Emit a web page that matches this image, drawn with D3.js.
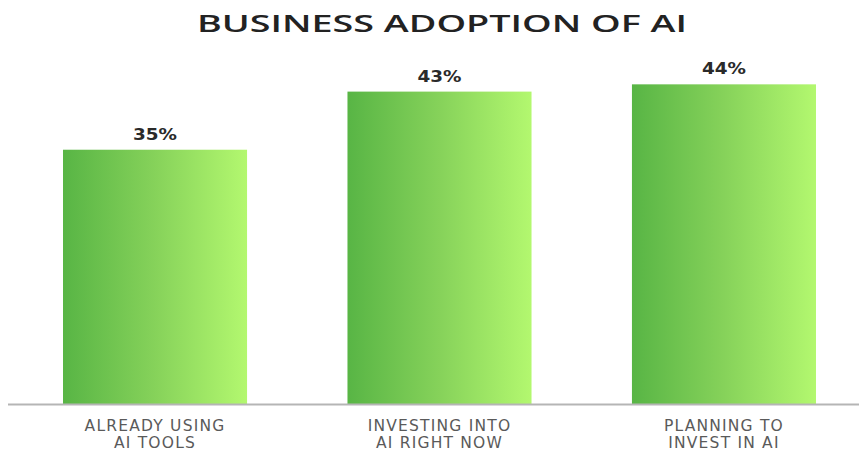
<!DOCTYPE html>
<html><head><meta charset="utf-8">
<script src="https://cdn.jsdelivr.net/npm/d3@7"></script>
<style>html,body{margin:0;padding:0;background:#fff;}svg{display:block;}</style>
</head><body><svg id="c" width="859" height="452"></svg>
<script>
const title = "BUSINESS ADOPTION OF AI";
const categories = ["ALREADY USING|AI TOOLS", "INVESTING INTO|AI RIGHT NOW", "PLANNING TO|INVEST IN AI"];
const values = [35, 43, 44];
const valueLabels = ["35%", "43%", "44%"];

const W = 859, H = 452;
const svg = d3.select("#c");
const baseY = 404;
const x = d3.scaleBand().domain(categories).range([63, 816]).paddingInner(0.353).paddingOuter(0);
const y = d3.scaleLinear().domain([0, 50]).range([baseY, baseY - 7.265 * 50]);

const defs = svg.append("defs");
const g = defs.append("linearGradient").attr("id", "grad").attr("x1", "0%").attr("x2", "100%").attr("y1", "0%").attr("y2", "0%");
g.append("stop").attr("offset", "0%").attr("stop-color", "#58b545");
g.append("stop").attr("offset", "50%").attr("stop-color", "#86d25a");
g.append("stop").attr("offset", "100%").attr("stop-color", "#b3f86f");

svg.append("text").attr("x", 442).attr("y", 32).attr("text-anchor", "middle")
  .attr("font-family", "'Open Sans', sans-serif").attr("font-weight", 600)
  .attr("font-size", 24).attr("fill", "#222").attr("textLength", 490).attr("lengthAdjust", "spacingAndGlyphs")
  .text(title);

svg.selectAll("rect.bar").data(values).join("rect").attr("class", "bar")
  .attr("x", (d, i) => x(categories[i])).attr("width", x.bandwidth())
  .attr("y", d => y(d)).attr("height", d => baseY - y(d)).attr("fill", "url(#grad)");

svg.selectAll("text.val").data(values).join("text").attr("class", "val")
  .attr("x", (d, i) => x(categories[i]) + x.bandwidth() / 2)
  .attr("y", d => y(d) - 10).attr("text-anchor", "middle")
  .attr("font-family", "'DejaVu Sans', sans-serif").attr("font-weight", "bold")
  .attr("font-size", 15).attr("fill", "#2a2a2a")
  .attr("textLength", 44).attr("lengthAdjust", "spacingAndGlyphs")
  .text((d, i) => valueLabels[i]);

svg.append("line").attr("x1", 8).attr("x2", 859).attr("y1", baseY + 0.5).attr("y2", baseY + 0.5)
  .attr("stroke", "#b5b5b5").attr("stroke-width", 2);

const lab = svg.selectAll("text.cat").data(categories).join("text").attr("class", "cat")
  .attr("text-anchor", "middle").attr("font-family", "'DejaVu Sans', sans-serif")
  .attr("font-size", 15.5).attr("fill", "#5a5a5a").attr("letter-spacing", 1.2);
lab.each(function(d) {
  const cx = x(d) + x.bandwidth() / 2;
  const parts = d.split("|");
  d3.select(this).selectAll("tspan").data(parts).join("tspan")
    .attr("x", cx).attr("y", (p, j) => 431 + j * 17).text(p => p);
});
</script></body></html>
